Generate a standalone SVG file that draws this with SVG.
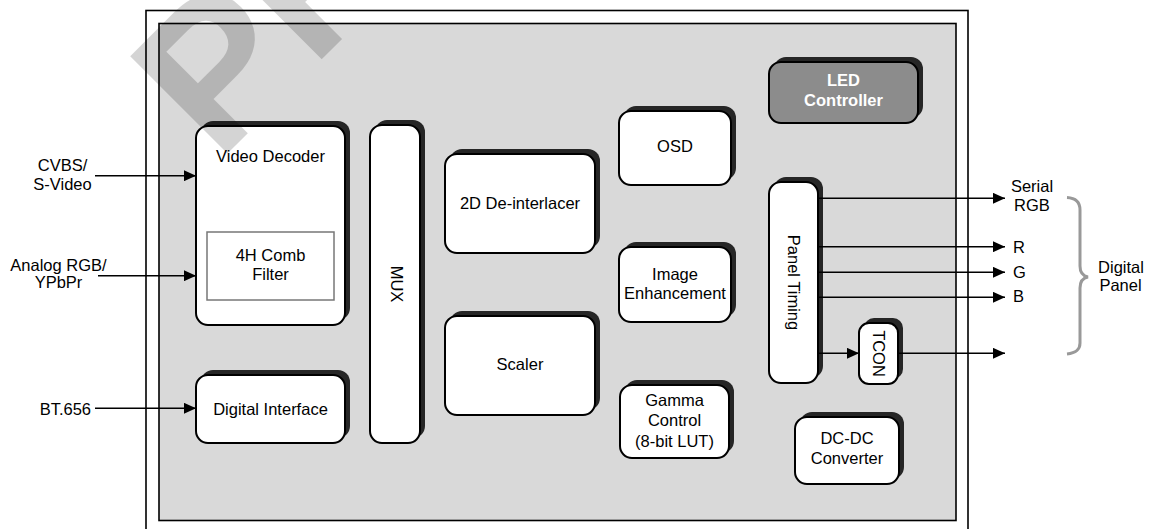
<svg xmlns="http://www.w3.org/2000/svg" width="1154" height="529" viewBox="0 0 1154 529">
<defs>
<style>
.box{fill:#fff;stroke:#000;stroke-width:2}
.sh{fill:#262626}
.t{font-family:"Liberation Sans",Arial,sans-serif;font-size:16.5px;fill:#000}
.c{text-anchor:middle}
.conn{stroke:#000;stroke-width:1.5;fill:none}
.arr{marker-end:url(#ah)}
</style>
<marker id="ah" markerUnits="userSpaceOnUse" markerWidth="12" markerHeight="11" refX="12" refY="5.5" orient="auto">
<path d="M0,0 L12,5.5 L0,11 z" fill="#000"/>
</marker>
</defs>
<rect x="0" y="0" width="1154" height="529" fill="#fff"/>
<g id="frame">
<rect x="146" y="10.5" width="822" height="540" fill="#fff" stroke="#000" stroke-width="1.6"/>
<rect x="159" y="23.5" width="797" height="497" fill="#d9d9d9" stroke="#000" stroke-width="1.6"/>
</g>
<g id="video-decoder">
<rect class="sh" x="201" y="121" width="149" height="199" rx="12"/>
<rect class="box" x="196" y="126" width="149" height="199" rx="12"/>
<rect x="207" y="232" width="127" height="68" fill="#fff" stroke="#777" stroke-width="1.5"/>
<text class="t c" x="270.5" y="162">Video Decoder</text>
<text class="t c" x="270.5" y="261">4H Comb</text>
<text class="t c" x="270.5" y="280">Filter</text>
</g>
<g id="digital-interface">
<rect class="sh" x="201" y="370" width="149" height="68" rx="12"/>
<rect class="box" x="196" y="375" width="149" height="68" rx="12"/>
<text class="t c" x="270.5" y="415">Digital Interface</text>
</g>
<g id="mux">
<rect class="sh" x="375" y="120" width="50" height="318" rx="12"/>
<rect class="box" x="370" y="125" width="50" height="318" rx="12"/>
<text class="t c" transform="translate(397,284) rotate(90)" y="6">MUX</text>
</g>
<g id="deinterlacer">
<rect class="sh" x="450" y="149" width="150" height="99" rx="12"/>
<rect class="box" x="445" y="154" width="150" height="99" rx="12"/>
<text class="t c" x="520" y="208.5">2D De-interlacer</text>
</g>
<g id="scaler">
<rect class="sh" x="450" y="311" width="150" height="99" rx="12"/>
<rect class="box" x="445" y="316" width="150" height="99" rx="12"/>
<text class="t c" x="520" y="370">Scaler</text>
</g>
<g id="osd">
<rect class="sh" x="624" y="106" width="112" height="74" rx="12"/>
<rect class="box" x="619" y="111" width="112" height="74" rx="12"/>
<text class="t c" x="675" y="152">OSD</text>
</g>
<g id="image-enhancement">
<rect class="sh" x="624" y="242" width="112" height="75" rx="12"/>
<rect class="box" x="619" y="247" width="112" height="75" rx="12"/>
<text class="t c" x="675" y="279.5">Image</text>
<text class="t c" x="675" y="299">Enhancement</text>
</g>
<g id="gamma-control">
<rect class="sh" x="625" y="380" width="109" height="73" rx="12"/>
<rect class="box" x="620" y="385" width="109" height="73" rx="12"/>
<text class="t c" x="674.5" y="406">Gamma</text>
<text class="t c" x="674.5" y="426">Control</text>
<text class="t c" x="674.5" y="446.5">(8-bit LUT)</text>
</g>
<g id="led-controller">
<rect class="sh" x="774" y="57" width="149" height="61" rx="12"/>
<rect x="769" y="62" width="149" height="61" rx="12" fill="#8c8c8c" stroke="#000" stroke-width="2"/>
<text class="t c" x="843.5" y="86" style="fill:#fff;font-weight:bold">LED</text>
<text class="t c" x="843.5" y="106" style="fill:#fff;font-weight:bold">Controller</text>
</g>
<g id="panel-timing">
<rect class="sh" x="774" y="177" width="49" height="201" rx="12"/>
<rect class="box" x="769" y="182" width="49" height="201" rx="12"/>
<text class="t c" transform="translate(793.5,282.5) rotate(90)" y="6">Panel Timing</text>
</g>
<g id="tcon">
<rect class="sh" x="864" y="318" width="39" height="61" rx="10"/>
<rect class="box" x="859" y="323" width="39" height="61" rx="10"/>
<text class="t c" transform="translate(879,353.5) rotate(90)" y="6">TCON</text>
</g>
<g id="dcdc-converter">
<rect class="sh" x="800" y="412" width="104" height="67" rx="12"/>
<rect class="box" x="795" y="417" width="104" height="67" rx="12"/>
<text class="t c" x="847" y="443.5">DC-DC</text>
<text class="t c" x="847" y="463.5">Converter</text>
</g>
<g id="connectors">
<line class="conn arr" x1="95" y1="175.7" x2="196" y2="175.7"/>
<line class="conn arr" x1="98" y1="275.7" x2="196" y2="275.7"/>
<line class="conn arr" x1="95" y1="408.3" x2="196" y2="408.3"/>
<line class="conn arr" x1="818" y1="198.3" x2="1005" y2="198.3"/>
<line class="conn arr" x1="818" y1="246.7" x2="1005" y2="246.7"/>
<line class="conn arr" x1="818" y1="272.3" x2="1005" y2="272.3"/>
<line class="conn arr" x1="818" y1="297.3" x2="1005" y2="297.3"/>
<line class="conn arr" x1="818" y1="353.3" x2="859" y2="353.3"/>
<line class="conn arr" x1="898" y1="353.3" x2="1005" y2="353.3"/>
</g>
<g id="labels">
<text class="t c" x="62.5" y="171">CVBS/</text>
<text class="t c" x="62.5" y="189.5">S-Video</text>
<text class="t c" x="58.5" y="270.7">Analog RGB/</text>
<text class="t c" x="58.5" y="288">YPbPr</text>
<text class="t" x="91" y="415" text-anchor="end">BT.656</text>
<text class="t c" x="1032" y="191.7">Serial</text>
<text class="t c" x="1032" y="210.7">RGB</text>
<text class="t" x="1013" y="253.3">R</text>
<text class="t" x="1013" y="277.7">G</text>
<text class="t" x="1013" y="301.7">B</text>
<path d="M1067,197.5 C1076,198 1080,202 1080,210 L1080,266 C1080,272 1083,276 1088,277 C1083,278 1080,282 1080,288 L1080,343 C1080,350 1076,353 1067,354" fill="none" stroke="#999" stroke-width="3"/>
<text class="t c" x="1121" y="273.3">Digital</text>
<text class="t c" x="1120.5" y="290.7">Panel</text>
</g>
<text x="218" y="163" transform="rotate(-45 218 163)" font-family="Liberation Sans, Arial, sans-serif" font-size="200" font-weight="bold" fill="#000" fill-opacity="0.17">PR</text>
</svg>
